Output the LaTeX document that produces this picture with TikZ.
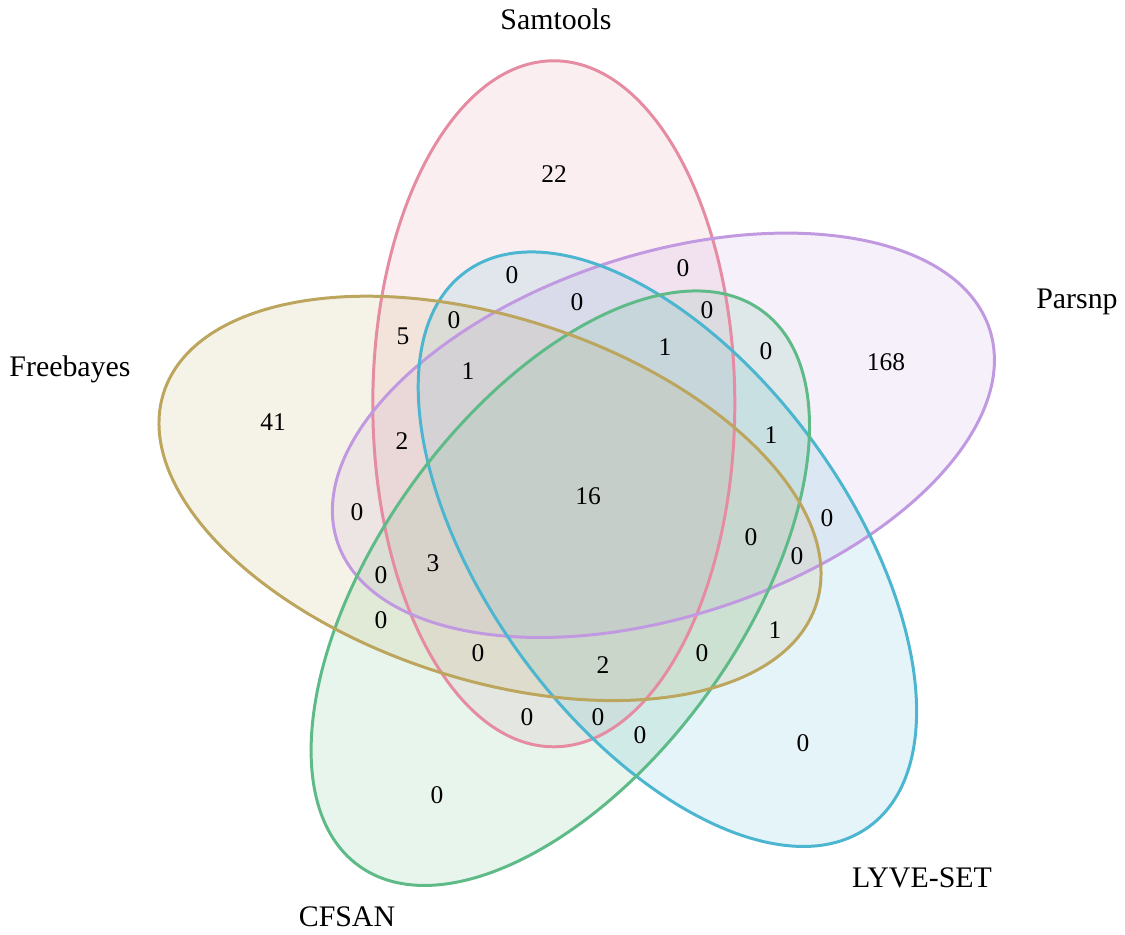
\documentclass[tikz,border=0pt]{standalone}
\usepackage{fontspec}
\setmainfont{Liberation Serif}
\usepackage{tikz}

\definecolor{samcol}{RGB}{229,140,162}
\definecolor{parcol}{RGB}{193,153,225}
\definecolor{lyvcol}{RGB}{76,181,208}
\definecolor{cfscol}{RGB}{94,186,134}
\definecolor{frecol}{RGB}{188,165,92}

\tikzset{
  setfill/.style={fill=#1, fill opacity=.15},
  setline/.style={draw=#1, line width=1.7pt},
  samset/.style={rotate around={90:(553.8,531.2)}},
  parset/.style={rotate around={18:(663.4,499.7)}},
  lyvset/.style={rotate around={-54:(667.4,385.8)}},
  cfsset/.style={rotate around={54:(560.3,346.8)}},
  freset/.style={rotate around={-18:(490.0,436.6)}},
  setname/.style={anchor=base, font=\fontsize{17}{20}\selectfont},
  count/.style={font=\fontsize{14.5}{16}\selectfont, inner sep=1pt}
}

\begin{document}
\begin{tikzpicture}[x=0.02cm, y=0.02cm]
        \useasboundingbox (0,0) rectangle (1125,935);
        % fills first, then the outlines on top
        \fill[samset, setfill=samcol] (553.8,531.2) ellipse (343 and 181);
        \fill[parset, setfill=parcol] (663.4,499.7) ellipse (343 and 181);
        \fill[lyvset, setfill=lyvcol] (667.4,385.8) ellipse (343 and 181);
        \fill[cfsset, setfill=cfscol] (560.3,346.8) ellipse (343 and 181);
        \fill[freset, setfill=frecol] (490.0,436.6) ellipse (343 and 181);
        \draw[samset, setline=samcol] (553.8,531.2) ellipse (343 and 181);
        \draw[parset, setline=parcol] (663.4,499.7) ellipse (343 and 181);
        \draw[lyvset, setline=lyvcol] (667.4,385.8) ellipse (343 and 181);
        \draw[cfsset, setline=cfscol] (560.3,346.8) ellipse (343 and 181);
        \draw[freset, setline=frecol] (490.0,436.6) ellipse (343 and 181);

        % set names
        \node[setname] (samtools) at (556,905) {Samtools};
        \node[setname] (parsnp) at (1077,626) {Parsnp};
        \node[setname] (freebayes) at (70,558) {Freebayes};
        \node[setname] (cfsan) at (347,8) {CFSAN};
        \node[setname] (lyveset) at (922,47) {LYVE-SET};

        % region counts
        \node[count] (s) at (554,761) {22};
        \node[count] (p) at (886,573) {168};
        \node[count] (f) at (273,513) {41};
        \node[count] (l) at (803,192) {0};
        \node[count] (c) at (437,140) {0};
        \node[count] (sl) at (512,660) {0};
        \node[count] (sp) at (683,667) {0};
        \node[count] (slp) at (577,633) {0};
        \node[count] (spc) at (707,625) {0};
        \node[count] (sf) at (403,599) {5};
        \node[count] (slf) at (454,615) {0};
        \node[count] (slpc) at (665,588) {1};
        \node[count] (pc) at (766,584) {0};
        \node[count] (slpf) at (468,564) {1};
        \node[count] (spf) at (402,494) {2};
        \node[count] (lpc) at (771,500) {1};
        \node[count] (all) at (588,439) {16};
        \node[count] (pf) at (357,423) {0};
        \node[count] (lp) at (827,417) {0};
        \node[count] (spcf) at (751,398) {0};
        \node[count] (pcf) at (797,379) {0};
        \node[count] (spcf2) at (433,372) {3};
        \node[count] (pcf2) at (381,360) {0};
        \node[count] (cf) at (381,315) {0};
        \node[count] (lcf) at (775,305) {1};
        \node[count] (scf) at (478,282) {0};
        \node[count] (slcf) at (603,270) {2};
        \node[count] (lc2) at (702,282) {0};
        \node[count] (sc) at (527,218) {0};
        \node[count] (slc) at (598,218) {0};
        \node[count] (lc) at (640,200) {0};
    \end{tikzpicture}
\end{document}
